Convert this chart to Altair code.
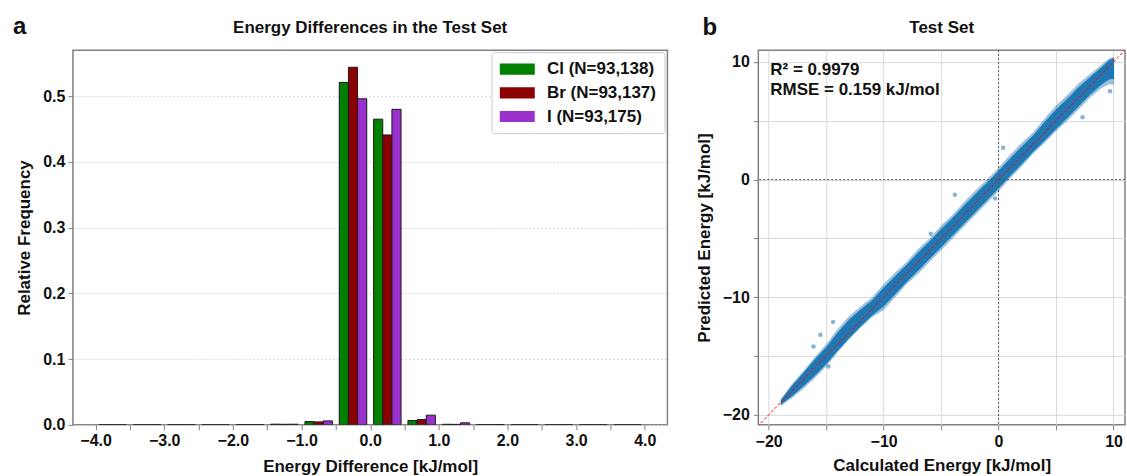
import altair as alt
import pandas as pd

FONT = "Liberation Sans"

# ---------------- Panel a: histogram of energy differences ----------------
bin_centers = [-3.75, -3.25, -2.75, -2.25, -1.75, -1.25, -0.75, -0.25,
               0.25, 0.75, 1.25, 1.75, 2.25, 2.75, 3.25, 3.75]
freq_cl = [0.0001, 0.0001, 0.0001, 0.0001, 0.0003, 0.0010, 0.0050, 0.5210,
           0.4650, 0.0065, 0.0008, 0.0003, 0.0001, 0.0001, 0.0001, 0.0001]
freq_br = [0.0001, 0.0001, 0.0001, 0.0001, 0.0003, 0.0008, 0.0045, 0.5440,
           0.4410, 0.0080, 0.0007, 0.0003, 0.0001, 0.0001, 0.0001, 0.0001]
freq_i = [0.0001, 0.0001, 0.0001, 0.0001, 0.0004, 0.0009, 0.0060, 0.4960,
          0.4800, 0.0147, 0.0030, 0.0004, 0.0001, 0.0001, 0.0001, 0.0001]
series_names = ["Cl (N=93,138)", "Br (N=93,137)", "I (N=93,175)"]
series_colors = ["#008000", "#8b0000", "#9932cc"]
x_ticks_a = [-4.0, -3.5, -3.0, -2.5, -2.0, -1.5, -1.0, -0.5, 0.0,
             0.5, 1.0, 1.5, 2.0, 2.5, 3.0, 3.5, 4.0]
y_ticks_a = [0.0, 0.1, 0.2, 0.3, 0.4, 0.5]

rows = []
for idx, (name, vals) in enumerate(zip(series_names, [freq_cl, freq_br, freq_i])):
    for c, v in zip(bin_centers, vals):
        rows.append({"center": c, "series": name, "idx": idx, "freq": v})
df_a = pd.DataFrame(rows)

x_title_a = "Energy Difference [kJ/mol]"
y_title_a = "Relative Frequency"
W_A, W_B, H = 595, 367, 375

bars = alt.Chart(df_a).transform_calculate(
    x0="datum.center - 0.2 + datum.idx * 0.4 / 3",
    x1="datum.center - 0.2 + (datum.idx + 1) * 0.4 / 3",
).mark_bar(stroke="#1a1a1a", strokeWidth=1, clip=True).encode(
    x=alt.X("x0:Q", title=x_title_a,
            scale=alt.Scale(domain=[-4.33, 4.33], nice=False, zero=False),
            axis=alt.Axis(values=x_ticks_a, grid=False,
                          labelExpr="datum.value % 1 == 0 ? format(datum.value, '.1f') : ''",
                          labelOverlap=False, labelFlush=False,
                          titlePadding=10, labelPadding=3)),
    x2="x1:Q",
    y=alt.Y("freq:Q", title=y_title_a,
            scale=alt.Scale(domain=[0, 0.57], nice=False),
            axis=alt.Axis(values=y_ticks_a, format=".1f", grid=True,
                          gridColor="#d8d8d8", gridDash=[2, 2], gridWidth=1,
                          titlePadding=9, labelPadding=3)),
    y2=alt.datum(0),
    color=alt.Color("series:N", sort=series_names,
                    scale=alt.Scale(domain=series_names, range=series_colors),
                    legend=alt.Legend(title=None, orient="none", legendX=419, legendY=2,
                                      labelFont=FONT, labelFontSize=17,
                                      labelFontWeight="bold", labelColor="#111",
                                      symbolType="M-1,-0.64H3V0.64H-1Z",
                                      symbolSize=306, symbolStrokeWidth=0,
                                      symbolOpacity=1,
                                      fillColor="white", strokeColor="#cccccc",
                                      padding=8, rowPadding=6.7, labelOffset=29.5,
                                      cornerRadius=2)),
)


def label_text(text, x, y, size=17, align="left"):
    return alt.Chart(pd.DataFrame({"t": [text]})).mark_text(
        text=text, font=FONT, fontSize=size, fontWeight="bold", align=align,
        baseline="alphabetic", color="#111"
    ).encode(x=alt.value(x), y=alt.value(y))


panel_a = alt.layer(
    bars,
    label_text("a", -60, -16, size=24),
    label_text("Energy Differences in the Test Set", W_A / 2, -17, align="center"),
).properties(width=W_A, height=H)

# ---------------- Panel b: predicted vs calculated ----------------
calc_energy = [-18.95, -18, -17, -16, -15, -14, -13, -12, -11, -10, -9, -8, -7, -6,
               -5, -4, -3, -2, -1, 0, 1, 2, 3, 4, 5, 6, 7, 8, 9, 9.6, 10.05]
outer_hi = [0.3, 0.6, 0.7, 0.9, 1.0, 1.3, 1.4, 1.2, 1.0, 1.1, 1.1, 1.0, 1.1, 1.0,
            1.1, 1.0, 1.1, 1.1, 1.0, 1.0, 1.1, 1.1, 1.0, 1.2, 1.3, 1.2, 1.2, 1.0, 0.8, 0.7, 0.4]
outer_lo = [-0.3, -0.6, -0.8, -0.9, -0.9, -0.7, -0.6, -0.6, -0.7, -1.1, -1.0, -0.9, -1.0, -1.0,
            -1.0, -1.0, -1.0, -1.0, -1.0, -1.0, -0.9, -0.9, -0.8, -0.9, -0.9, -1.0, -1.0, -1.0, -1.2, -1.5, -2.0]
core_hi = [0.2, 0.45, 0.55, 0.7, 0.75, 1.0, 1.1, 0.95, 0.75, 0.8, 0.8, 0.75, 0.8, 0.75,
           0.8, 0.75, 0.8, 0.8, 0.75, 0.75, 0.8, 0.8, 0.75, 0.9, 0.95, 0.9, 0.9, 0.75, 0.6, 0.55, 0.3]
core_lo = [-0.2, -0.45, -0.6, -0.7, -0.7, -0.55, -0.5, -0.5, -0.55, -0.8, -0.75, -0.7, -0.75, -0.75,
           -0.75, -0.75, -0.75, -0.75, -0.75, -0.75, -0.7, -0.7, -0.65, -0.7, -0.7, -0.75, -0.75, -0.75, -0.9, -1.1, -1.5]
outlier_calc = [-3.8, 0.4, 7.3, 9.7, -16.1, -15.5, -14.8, -14.4, -5.9, -0.3]
outlier_pred = [-1.3, 2.7, 5.3, 7.5, -14.2, -13.2, -15.9, -12.1, -4.6, -1.6]
xy_ticks_b = [-20, -15, -10, -5, 0, 5, 10]
diag_ends = [-21, 11]

df_b = pd.DataFrame({"calc": calc_energy, "ohi": outer_hi, "olo": outer_lo,
                     "chi": core_hi, "clo": core_lo})
df_out = pd.DataFrame({"calc": outlier_calc, "pred": outlier_pred})
df_diag = pd.DataFrame({"e": diag_ends})
df_zero = pd.DataFrame({"v": [0]})

x_title_b = "Calculated Energy [kJ/mol]"
y_title_b = "Predicted Energy [kJ/mol]"
sx = alt.Scale(domain=[-20.9, 11.0], nice=False, zero=False)
sy = alt.Scale(domain=[-20.85, 11.0], nice=False, zero=False)
lab10 = "datum.value % 10 == 0 ? datum.label : ''"
ax_x = alt.Axis(values=xy_ticks_b, labelExpr=lab10, grid=True, gridColor="#d9d9d9",
                gridWidth=1, labelOverlap=False, labelFlush=False,
                titlePadding=8, labelPadding=4)
ax_y = alt.Axis(values=xy_ticks_b, labelExpr=lab10, grid=True, gridColor="#d9d9d9",
                gridWidth=1, labelOverlap=False, labelFlush=False,
                titlePadding=9, labelPadding=4)

base_b = alt.Chart(df_b).transform_calculate(
    yo_hi="datum.calc + datum.ohi", yo_lo="datum.calc + datum.olo",
    yc_hi="datum.calc + datum.chi", yc_lo="datum.calc + datum.clo",
)
outer = base_b.mark_area(color="#1f77b4", opacity=0.45).encode(
    x=alt.X("calc:Q", title=x_title_b, scale=sx, axis=ax_x),
    y=alt.Y("yo_hi:Q", title=y_title_b, scale=sy, axis=ax_y),
    y2="yo_lo:Q",
)
core = base_b.mark_area(color="#1f77b4", opacity=1).encode(
    x=alt.X("calc:Q", title=x_title_b),
    y=alt.Y("yc_hi:Q", title=y_title_b),
    y2="yc_lo:Q",
)
outliers = alt.Chart(df_out).mark_circle(size=20, color="#1f77b4", opacity=0.55).encode(
    x=alt.X("calc:Q", title=x_title_b),
    y=alt.Y("pred:Q", title=y_title_b),
)
zero_v = alt.Chart(df_zero).mark_rule(color="#555555", strokeDash=[2, 2], strokeWidth=1).encode(
    x=alt.X("v:Q", title=x_title_b))
zero_h = alt.Chart(df_zero).mark_rule(color="#555555", strokeDash=[2, 2], strokeWidth=1).encode(
    y=alt.Y("v:Q", title=y_title_b))
diag = alt.Chart(df_diag).mark_line(color="#ff0000", strokeDash=[3, 2], strokeWidth=1, clip=True).encode(
    x=alt.X("e:Q", title=x_title_b),
    y=alt.Y("e:Q", title=y_title_b),
)

panel_b = alt.layer(
    outer, core, outliers, zero_v, zero_h, diag,
    label_text("R² = 0.9979", 12, 25),
    label_text("RMSE = 0.159 kJ/mol", 12, 45),
    label_text("b", -56, -15, size=24),
    label_text("Test Set", W_B / 2, -17, align="center"),
).properties(width=W_B, height=H)

chart = alt.hconcat(panel_a, panel_b, spacing=91, bounds="flush").properties(
    padding={"left": 12, "top": 14, "right": 0, "bottom": 0},
    background="white",
).configure_view(
    stroke="#808080", strokeWidth=1.5,
).configure_axis(
    domain=False, tickColor="#808080", tickSize=5, tickWidth=1,
    labelFont=FONT, labelFontSize=16, labelFontWeight="bold", labelColor="#111",
    titleFont=FONT, titleFontSize=17, titleFontWeight="bold", titleColor="#111",
)

chart.save("out.html", embed_options={"renderer": "svg", "actions": False})
